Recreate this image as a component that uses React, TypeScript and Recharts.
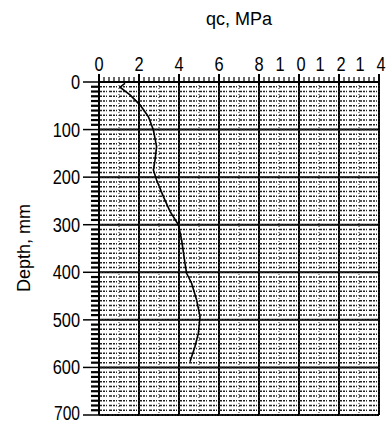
import React from 'react';
import { ScatterChart, Scatter, XAxis, YAxis, CartesianGrid, Label, ReferenceLine } from 'recharts';

const depthMm = [3, 11, 27, 48, 73, 101, 136, 164, 185, 206, 241, 272, 300, 332, 381, 402, 423, 458, 493, 528, 556, 588];
const qcMPa = [1.3, 1.05, 1.55, 2.05, 2.47, 2.72, 2.88, 2.8, 2.72, 2.88, 3.22, 3.55, 3.97, 4.13, 4.3, 4.38, 4.63, 4.88, 5.05, 4.97, 4.8, 4.55];

const xMajorTicks = [0, 2, 4, 6, 8, 10, 12, 14];
const yMajorTicks = [0, 100, 200, 300, 400, 500, 600, 700];

const xMinorTicks: number[] = [];
for (let i = 0; i <= 56; i++) xMinorTicks.push(i * 0.25);
const yMinorTicks: number[] = [];
for (let i = 0; i <= 70; i++) yMinorTicks.push(i * 10);
const xDotted: number[] = [];
for (let i = 0; i <= 14; i++) xDotted.push(i);

const data = depthMm.map((d, i) => ({ qc: qcMPa[i], depth: d }));

const tickFont = "'Liberation Sans', Arial, sans-serif";
const labelFont = "'Liberation Sans', Arial, sans-serif";

const Digit = ({ x, y, s, anchor, size = 21 }: any) => (
  <g transform={`translate(${x},${y}) scale(0.78,1)`}>
    <text x={0} y={0} textAnchor={anchor} fontSize={size} fontFamily={tickFont} fill="#000">{s}</text>
  </g>
);

const XTick = (props: any) => {
  const { x, y, payload } = props;
  const v = payload.value;
  const major = Math.abs(v / 2 - Math.round(v / 2)) < 1e-6;
  const s = String(v);
  return (
    <g>
      <line x1={x} x2={x} y1={y} y2={y - (major ? 8 : 5)} stroke="#000" strokeWidth={major ? 2 : 1.2} />
      {major && s.length === 1 && <Digit x={x} y={y - 11} s={s} anchor="middle" />}
      {major && s.length === 2 && (
        <g>
          <Digit x={x + 2 - 21} y={y - 11} s={s[0]} anchor="middle" />
          <Digit x={x + 2} y={y - 11} s={s[1]} anchor="middle" />
        </g>
      )}
    </g>
  );
};

const YTick = (props: any) => {
  const { x, y, payload } = props;
  const v = payload.value;
  const major = v % 100 === 0;
  return (
    <g>
      <line x1={x} x2={x - (major ? 16 : 8)} y1={y} y2={y} stroke="#000" strokeWidth={major ? 1.5 : 2.2} />
      {major && <Digit x={x - 19} y={y + (v === 700 ? 4.5 : 7)} s={String(v)} anchor="end" size={v === 700 ? 20 : 21} />}
    </g>
  );
};

export default function App() {
  return (
    <div style={{ position: 'absolute', left: 0, top: 0, width: 390, height: 423, background: '#fff' }}>
      <ScatterChart width={390} height={423} margin={{ top: 0, right: 11, bottom: 8, left: 0 }}>
        {yMinorTicks.map((d) => (
          <ReferenceLine key={'h' + d} y={d} stroke="#222" strokeWidth={1.5} strokeDasharray="3 1 2 1 1 2" />
        ))}
        {xDotted.map((q) => (
          <ReferenceLine key={'v' + q} x={q} stroke="#222" strokeWidth={1} strokeDasharray="1 2" />
        ))}
        <CartesianGrid stroke="#000" strokeWidth={2} horizontalValues={yMajorTicks} verticalValues={xMajorTicks} />
        <XAxis
          type="number"
          dataKey="qc"
          orientation="top"
          domain={[0, 14]}
          ticks={xMinorTicks}
          interval={0}
          height={82}
          tickSize={0}
          tickMargin={0}
          tickLine={false}
          axisLine={{ stroke: '#000', strokeWidth: 2 }}
          tick={XTick}
        >
          <Label
            content={(p: any) => (
              <text x={239} y={25} textAnchor="middle" fontSize={18} fontFamily={labelFont} fill="#000">qc, MPa</text>
            )}
          />
        </XAxis>
        <YAxis
          type="number"
          dataKey="depth"
          reversed
          domain={[0, 700]}
          ticks={yMinorTicks}
          interval={0}
          width={99}
          tickSize={0}
          tickMargin={0}
          tickLine={false}
          axisLine={{ stroke: '#000', strokeWidth: 2 }}
          tick={YTick}
        >
          <Label
            content={(p: any) => (
              <text x={30} y={248} transform="rotate(-90 30 248)" textAnchor="middle" fontSize={18} fontFamily={labelFont} fill="#000">Depth, mm</text>
            )}
          />
        </YAxis>
        <Scatter
          data={data}
          line={{ stroke: '#000', strokeWidth: 1.6 }}
          shape={() => null}
          isAnimationActive={false}
        />
      </ScatterChart>
    </div>
  );
}
